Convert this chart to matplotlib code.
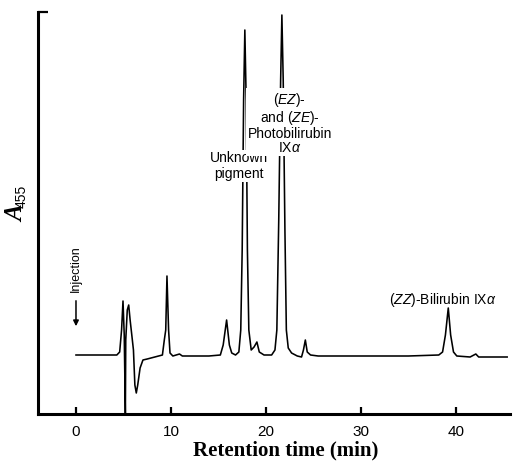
import matplotlib
matplotlib.use("Agg")
import matplotlib.pyplot as plt

# chromatogram trace (time in min, absorbance in arbitrary units)
time_min = [0.0, 4.3, 4.6, 4.8, 4.95, 5.08, 5.2, 5.24, 5.4, 5.55, 5.7, 5.9, 6.05, 6.2, 6.35,
            6.5, 6.75, 7.05, 7.5, 8.3, 9.1, 9.3, 9.45, 9.58, 9.75, 9.9, 10.2, 10.9, 11.2,
            12.5, 14.0, 15.2, 15.5, 15.86, 16.15, 16.4, 16.8, 17.15, 17.35, 17.5, 17.65,
            17.78, 17.92, 18.05, 18.2, 18.45, 18.75, 19.05, 19.3, 19.8, 20.6, 20.95, 21.15,
            21.35, 21.55, 21.68, 21.82, 22.0, 22.15, 22.35, 22.7, 23.3, 23.75, 23.95, 24.15,
            24.35, 24.7, 25.5, 30.0, 35.0, 38.2, 38.6, 38.9, 39.2, 39.45, 39.75, 40.1, 41.5,
            42.1, 42.4, 45.4]
absorbance = [0.59, 0.59, 0.62, 0.84, 1.13, 0.79, 0.00, 0.74, 1.04, 1.09, 0.94, 0.77, 0.64, 0.29, 0.21,
              0.29, 0.46, 0.54, 0.55, 0.57, 0.59, 0.74, 0.84, 1.38, 0.84, 0.61, 0.58, 0.60, 0.58,
              0.58, 0.58, 0.59, 0.69, 0.94, 0.69, 0.61, 0.59, 0.62, 0.84, 1.64, 3.14,
              3.84, 3.14, 1.64, 0.84, 0.64, 0.67, 0.72, 0.62, 0.59, 0.59, 0.64, 0.84,
              1.94, 3.34, 3.99, 3.34, 1.84, 0.84, 0.66, 0.61, 0.58, 0.57, 0.64, 0.74,
              0.62, 0.59, 0.58, 0.58, 0.58, 0.59, 0.62, 0.79, 1.06, 0.79, 0.62, 0.58, 0.57,
              0.60, 0.57, 0.57]
x_ticks = [0, 10, 20, 30, 40]

plt.rcParams['mathtext.fontset'] = 'custom'
plt.rcParams['mathtext.rm'] = 'Liberation Sans'
plt.rcParams['mathtext.it'] = 'Liberation Sans:italic'

fig = plt.figure(figsize=(5.21, 4.62), dpi=100)
ax = fig.add_axes([38 / 521, 48 / 462, 472 / 521, 402 / 462])

ax.plot(time_min, absorbance, color='black', lw=1.15, zorder=2)

ax.set_xlim(-4.0, 45.7)
ax.set_ylim(0, 4.02)
for side in ['top', 'right']:
    ax.spines[side].set_visible(False)
for side in ['left', 'bottom']:
    ax.spines[side].set_linewidth(2.2)

ax.set_xticks(x_ticks)
ax.set_xticklabels([str(t) for t in x_ticks], fontfamily='Liberation Sans', fontsize=11)
ax.tick_params(axis='x', direction='in', length=5, width=1.6, pad=8)
ax.set_yticks([4.02])
ax.set_yticklabels([''])
ax.tick_params(axis='y', direction='in', length=7, width=1.6)

fig.text(286 / 521, 1 - 450 / 462, 'Retention time (min)', ha='center', va='center',
         fontfamily='Liberation Serif', fontweight='bold', fontsize=15)
fig.text(17 / 521, 1 - 214 / 462, 'A', rotation=90, ha='center', va='center',
         fontfamily='Liberation Serif', fontstyle='italic', fontweight='bold', fontsize=18)
fig.text(22 / 521, 1 - 196 / 462, '455', rotation=90, ha='center', va='center',
         fontfamily='Liberation Sans', fontsize=10)

box = dict(facecolor='white', edgecolor='none', pad=1.0)
ax.text(17.2, (414 - 166) / 100, 'Unknown\npigment', ha='center', va='center',
        fontfamily='Liberation Sans', fontsize=10, linespacing=1.1, bbox=box, zorder=3)
ax.text(22.5, (414 - 123) / 100, '($\\mathit{EZ}$)-\nand ($\\mathit{ZE}$)-\nPhotobilirubin\nIX$\\mathit{\\alpha}$',
        ha='center', va='center', fontfamily='Liberation Sans', fontsize=10,
        linespacing=1.0, bbox=box, zorder=3)
ax.text(38.6, (414 - 300) / 100, '($\\mathit{ZZ}$)-Bilirubin IX$\\mathit{\\alpha}$', ha='center',
        va='center', fontfamily='Liberation Sans', fontsize=10, zorder=3)

ax.text(0, (414 - 269) / 100, 'Injection', rotation=90, ha='center', va='center',
        fontfamily='Liberation Sans', fontsize=9)
ax.annotate('', xy=(0, (414 - 329) / 100), xytext=(0, (414 - 298) / 100),
            arrowprops=dict(arrowstyle='-|>', color='black', lw=1.1, mutation_scale=8))

fig.savefig('out.png', dpi=100)
